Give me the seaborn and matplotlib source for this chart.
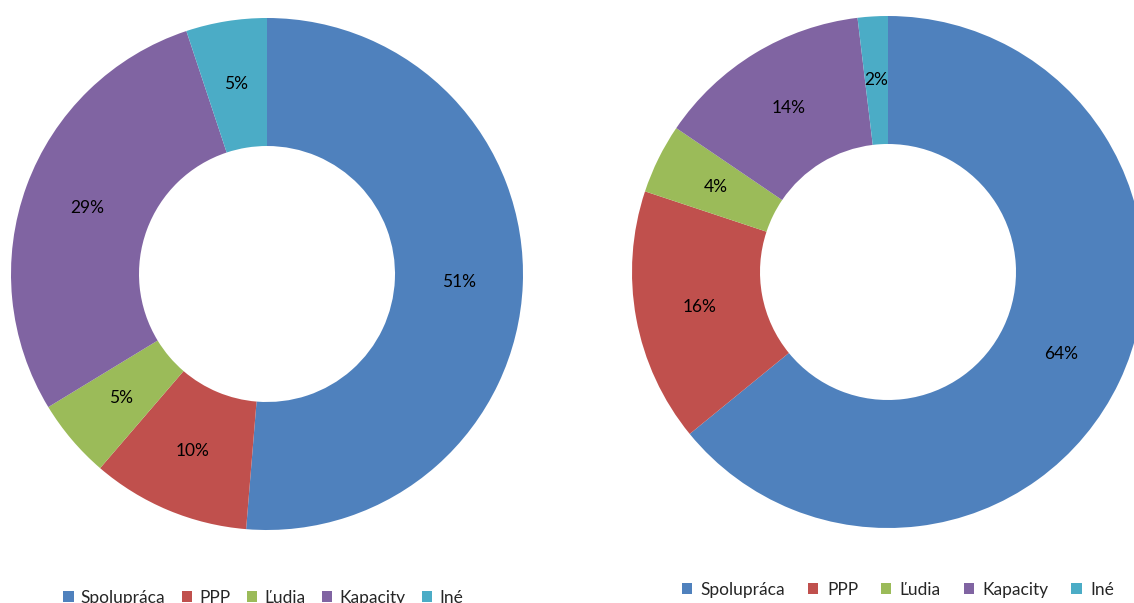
import matplotlib
matplotlib.use('Agg')
import matplotlib.pyplot as plt
import seaborn as sns
from matplotlib.patches import Patch

# Kategórie a hodnoty (v %)
kategorie = ['Spolupráca', 'PPP', 'Ľudia', 'Kapacity', 'Iné']
hodnoty_vlavo = [51.3, 10.0, 5.0, 28.6, 5.1]
hodnoty_vpravo = [64.1, 16.0, 4.4, 13.6, 1.9]
farby = ['#4F81BD', '#C0504D', '#9BBB59', '#8064A2', '#4BACC6']

sns.set_style('white')
plt.rcParams['font.family'] = ['Lato', 'DejaVu Sans']

W, H = 1134, 603
fig = plt.figure(figsize=(W / 100, H / 100), dpi=100)


def kolac(cx, cy, r, hodnoty):
    # os v pixeloch -> zlomky figúry
    ax = fig.add_axes([(cx - r) / W, (H - cy - r) / H, 2 * r / W, 2 * r / H])
    ax.pie(hodnoty, colors=sns.color_palette(farby), startangle=90, counterclock=False,
           radius=1, autopct='%.0f%%', pctdistance=0.75,
           wedgeprops=dict(width=0.5, linewidth=0),
           textprops=dict(fontsize=12.5, color='black'))
    ax.set_xlim(-1, 1)
    ax.set_ylim(-1, 1)
    ax.set_aspect('equal')
    ax.axis('off')
    return ax


kolac(267, 274, 256, hodnoty_vlavo)
kolac(888, 272, 256, hodnoty_vpravo)

handles = [Patch(facecolor=c, edgecolor='none') for c in farby]
for x, y, medzera, pad in [(263, 598, 0.95, 0.4), (898, 590, 1.3, 0.5)]:
    fig.legend(handles, kategorie, loc='center', bbox_to_anchor=(x / W, (H - y) / H),
               ncol=5, frameon=False, fontsize=12.5, handlelength=0.6, handleheight=0.6,
               handletextpad=pad, columnspacing=medzera, borderpad=0, borderaxespad=0)

fig.savefig('out.png', dpi=100)
